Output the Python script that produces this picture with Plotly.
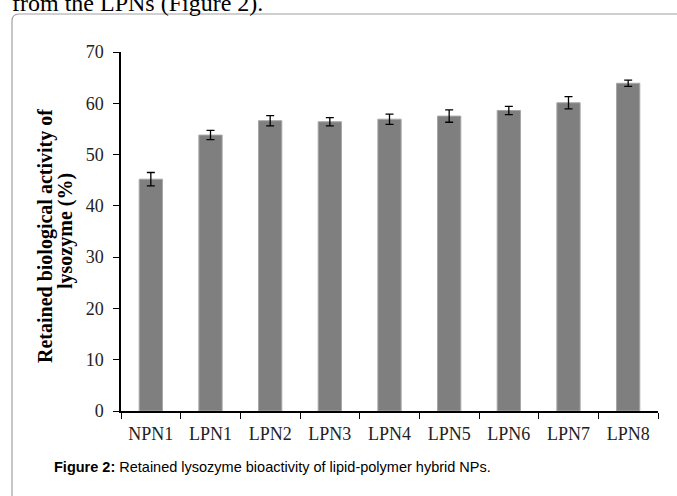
import plotly.graph_objects as go

categories = ["NPN1", "LPN1", "LPN2", "LPN3", "LPN4", "LPN5", "LPN6", "LPN7", "LPN8"]
values = [45.2, 53.8, 56.6, 56.4, 56.9, 57.5, 58.6, 60.1, 63.9]
errors = [1.3, 0.9, 1.0, 0.8, 1.0, 1.2, 0.8, 1.2, 0.6]
y_ticks = [0, 10, 20, 30, 40, 50, 60, 70]

W, H = 677, 496
L, R, T, B = 121, 658, 52, 411  # plot area in pixels


def px(x):
    return (x - L) / (R - L)


def py(y):
    return (B - y) / (B - T)


serif = "Liberation Serif, Times New Roman, serif"
sans = "Liberation Sans, Arial, sans-serif"

fig = go.Figure(
    go.Bar(
        x=categories,
        y=values,
        marker=dict(color="#7f7f7f", line=dict(color="#a6a6a6", width=1)),
        error_y=dict(type="data", array=errors, visible=True,
                     color="black", thickness=1.3, width=4),
        width=0.39,
    )
)

# rounded frame
r = 7
fig.add_shape(
    type="path", xref="paper", yref="paper",
    path=(f"M {px(12)},{py(560)} L {px(12)},{py(14 + r)} "
          f"Q {px(12)},{py(14)} {px(12 + r)},{py(14)} L {px(720)},{py(14)}"),
    line=dict(color="#a0a0a0", width=1.2), layer="below",
)

fig.update_layout(
    width=W, height=H,
    margin=dict(l=L, r=W - R, t=T, b=H - B),
    paper_bgcolor="white", plot_bgcolor="white",
    showlegend=False,
    xaxis=dict(
        type="category", tickson="boundaries", ticks="outside", ticklen=6,
        tickwidth=1.3, tickcolor="black", showline=True, linecolor="black",
        linewidth=1.5, tickfont=dict(family=serif, size=18, color="#222"),
        ticklabelstandoff=6,
        range=[-0.5, 8.5], showgrid=False, zeroline=False,
    ),
    yaxis=dict(
        range=[0, 70], tickvals=y_ticks, ticks="outside", ticklen=6,
        tickwidth=1.3, tickcolor="black", showline=True, linecolor="black",
        linewidth=1.5, tickfont=dict(family=serif, size=18, color="#222"),
        ticklabelstandoff=6,
        showgrid=False, zeroline=False,
    ),
    annotations=[
        dict(text="<b>Retained biological activity of</b>",
             xref="paper", yref="paper", x=px(45), y=py(236), textangle=-90,
             showarrow=False, font=dict(family=serif, size=20, color="black"),
             xanchor="center", yanchor="middle"),
        dict(text="<b>lysozyme (%)</b>",
             xref="paper", yref="paper", x=px(65), y=py(231), textangle=-90,
             showarrow=False, font=dict(family=serif, size=20, color="black"),
             xanchor="center", yanchor="middle"),
        dict(text="<b>Figure 2:</b> Retained lysozyme bioactivity of lipid-polymer hybrid NPs.",
             xref="paper", yref="paper", x=px(52), y=py(467),
             showarrow=False, font=dict(family=sans, size=14.5, color="black"),
             xanchor="left", yanchor="middle"),
        dict(text="from the LPNs (Figure 2).",
             xref="paper", yref="paper", x=px(10), y=py(3),
             showarrow=False, font=dict(family=serif, size=24, color="black"),
             xanchor="left", yanchor="middle"),
    ],
)

fig.write_html("out.html", config={"displayModeBar": False},
               post_script="document.body.style.margin='0';")
